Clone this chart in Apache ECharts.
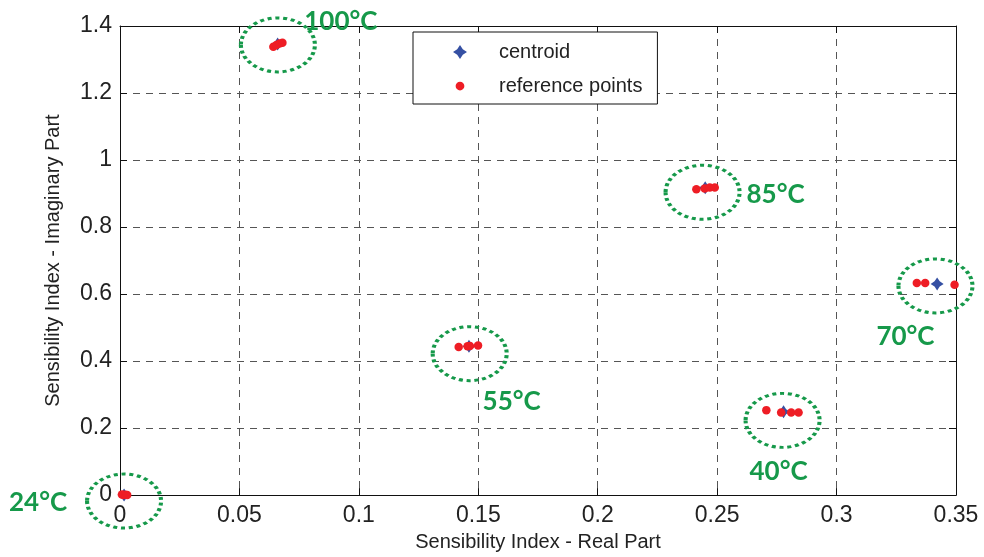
<!DOCTYPE html>
<html>
<head>
<meta charset="utf-8">
<script src="https://cdn.jsdelivr.net/npm/echarts@6/dist/echarts.min.js"></script>
<style>
  html, body { margin: 0; padding: 0; background: #fff; }
  #chart { width: 984px; height: 557px; }
</style>
</head>
<body>
<div id="chart"></div>
<script>
// ---- data ----
var xTicks = [0, 0.05, 0.1, 0.15, 0.2, 0.25, 0.3, 0.35];
var yTicks = [0, 0.2, 0.4, 0.6, 0.8, 1, 1.2, 1.4];

var centroidX = [0.0017, 0.0660, 0.1461, 0.2450, 0.2778, 0.3421];
var centroidY = [0.0000, 1.3460, 0.4440, 0.9170, 0.2488, 0.6302];

var refX = [0.0008, 0.0015, 0.0022, 0.0030,
            0.0642, 0.0655, 0.0668, 0.0680,
            0.1418, 0.1455, 0.1465, 0.1499,
            0.2413, 0.2448, 0.2469, 0.2490,
            0.2706, 0.2768, 0.2810, 0.2841,
            0.3336, 0.3371, 0.3494];
var refY = [0.0020, 0.0000, 0.0010, 0.0000,
            1.3380, 1.3430, 1.3480, 1.3500,
            0.4420, 0.4440, 0.4450, 0.4468,
            0.9126, 0.9147, 0.9180, 0.9180,
            0.2536, 0.2467, 0.2467, 0.2467,
            0.6332, 0.6332, 0.6281];

var groupNames = ['24°C', '100°C', '55°C', '85°C', '40°C', '70°C'];
var groupCenterX = [0.0017, 0.0661, 0.1464, 0.2439, 0.2774, 0.3414];
var groupCenterY = [-0.0178, 1.3436, 0.4221, 0.9037, 0.2230, 0.6243];

// ---- layout / style (not data) ----
var labelOffsets = [[-86, 2], [63, -23], [42, 48], [73, 2], [-4, 51], [-30, 51]];
var green = '#16994a';
var blue = '#3550a3';
var red = '#ee1d25';
var starPath = 'path://M0,-10 L4,-4 L10,0 L4,4 L0,10 L-4,4 L-10,0 L-4,-4 Z';
var ellipsePath = 'path://M-1,0 A1,1 0 1,0 1,0 A1,1 0 1,0 -1,0 Z';
// legend dot icon: small circle inside a larger (invisible) extent
var legendDotPath = 'path://M-1.6,-1.6 L-1.6,-1.6 M1.6,1.6 L1.6,1.6 M-1,0 A1,1 0 1,0 1,0 A1,1 0 1,0 -1,0 Z';
var tickFont = 'Liberation Sans, Arial, sans-serif';

function zip(a, b) { return a.map(function (v, i) { return [v, b[i]]; }); }

var chart = echarts.init(document.getElementById('chart'), null, { renderer: 'canvas' });

var axisCommon = {
  type: 'value',
  interval: 0.05,
  axisLine: { show: true, onZero: false, lineStyle: { color: '#111', width: 1 } },
  axisTick: { show: true, inside: true, length: 7, lineStyle: { color: '#111' } }
};

var option = {
  animation: false,
  backgroundColor: '#ffffff',
  grid: { left: 120, top: 26, right: 28, bottom: 60, containLabel: false },
  legend: {
    left: 413, top: 32,
    orient: 'vertical',
    data: [
      { name: 'centroid', icon: starPath },
      { name: 'reference points', icon: legendDotPath }
    ],
    itemWidth: 68, itemHeight: 14,
    itemGap: 14,
    padding: [10, 15, 8, 40],
    backgroundColor: '#fff',
    borderColor: '#111', borderWidth: 1, borderRadius: 0,
    textStyle: { fontFamily: tickFont, fontSize: 20, color: '#222', lineHeight: 20 },
    selectedMode: false
  },
  xAxis: [
    Object.assign({}, axisCommon, {
      position: 'bottom', min: 0, max: 0.35,
      name: 'Sensibility Index - Real Part',
      nameLocation: 'middle', nameGap: 34,
      nameTextStyle: { fontFamily: tickFont, fontSize: 20, color: '#222' },
      axisLabel: {
        fontFamily: tickFont, fontSize: 23, color: '#222', margin: 9,
        formatter: function (v) { var i = xTicks.indexOf(+v.toFixed(2)); return i >= 0 ? String(xTicks[i]) : ''; }
      },
      splitLine: { show: true, lineStyle: { color: '#555', type: [7, 6], width: 1 } }
    }),
    Object.assign({}, axisCommon, {
      position: 'top', min: 0, max: 0.35,
      axisLabel: { show: false }, splitLine: { show: false }
    })
  ],
  yAxis: [
    Object.assign({}, axisCommon, {
      position: 'left', min: 0, max: 1.4, interval: 0.2,
      name: 'Sensibility Index - Imaginary Part',
      nameLocation: 'middle', nameGap: 57,
      nameTextStyle: { fontFamily: tickFont, fontSize: 20, color: '#222' },
      axisLabel: {
        fontFamily: tickFont, fontSize: 23, color: '#222', margin: 8,
        formatter: function (v) { var i = yTicks.indexOf(+v.toFixed(1)); return i >= 0 ? String(yTicks[i]) : ''; }
      },
      splitLine: { show: true, lineStyle: { color: '#555', type: [7, 6], width: 1 } }
    }),
    Object.assign({}, axisCommon, {
      position: 'right', min: 0, max: 1.4, interval: 0.2,
      axisLabel: { show: false }, splitLine: { show: false }
    })
  ],
  series: [
    {
      name: 'centroid',
      type: 'scatter',
      xAxisIndex: 0, yAxisIndex: 0,
      symbol: starPath,
      symbolSize: 13,
      itemStyle: { color: blue, opacity: 1 },
      data: zip(centroidX, centroidY),
      z: 3,
      emphasis: { disabled: true },
      silent: true
    },
    {
      name: 'reference points',
      type: 'scatter',
      xAxisIndex: 0, yAxisIndex: 0,
      symbol: 'circle',
      symbolSize: 8.5,
      itemStyle: { color: red, opacity: 1 },
      data: zip(refX, refY),
      z: 4,
      emphasis: { disabled: true },
      silent: true
    },
    {
      name: 'groups',
      type: 'scatter',
      xAxisIndex: 0, yAxisIndex: 0,
      symbol: ellipsePath,
      symbolSize: [74, 54],
      clip: false,
      itemStyle: { color: 'rgba(0,0,0,0)', borderColor: green, borderWidth: 3.5, borderType: [3.5, 3.2], opacity: 1 },
      data: groupCenterX.map(function (x, i) {
        return {
          value: [x, groupCenterY[i]],
          name: groupNames[i],
          label: { offset: labelOffsets[i] }
        };
      }),
      label: {
        show: true, position: 'inside',
        formatter: function (p) { return p.name; },
        color: green, fontFamily: 'Lato, Open Sans, sans-serif', fontWeight: 'bold', fontSize: 26
      },
      z: 5,
      emphasis: { disabled: true },
      silent: true
    }
  ]
};
chart.setOption(option);
</script>
</body>
</html>
